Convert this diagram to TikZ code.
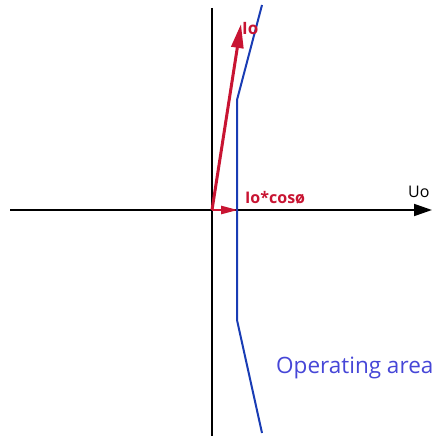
\documentclass[tikz,border=0pt]{standalone}
\usepackage{fontspec}
\setmainfont{Open Sans}
\usetikzlibrary{arrows.meta}
\definecolor{vecred}{RGB}{200,20,50}
\definecolor{limitblue}{RGB}{25,60,180}
\definecolor{areablue}{RGB}{70,70,215}

\begin{document}
\begin{tikzpicture}[x=1pt, y=-1pt,
    every node/.style={inner sep=0pt, anchor=base west},
    axis/.style={line width=1.8pt, black},
    vector/.style={line width=3pt, vecred, -{Triangle[length=24pt, width=12pt]}},
    limit/.style={line width=2pt, limitblue},
    label/.style={font=\fontsize{16}{16}\selectfont\bfseries, text=vecred}
  ]
    \useasboundingbox (0,0) rectangle (432,436);
    % axes
    \coordinate (origin) at (212,210);
    \coordinate (xstart) at (10,210);
    \coordinate (xend) at (432,210);
    \coordinate (ytop) at (212,8);
    \coordinate (ybottom) at (212,436);
    \draw[axis, -{Triangle[length=18pt, width=12pt]}] (xstart) -- (xend);
    \draw[axis] (ytop) -- (ybottom);
    \node (uo) at (408,197) {\fontsize{16}{16}\selectfont Uo};

    % operating limit
    \coordinate (ltop) at (262,5);
    \coordinate (lknee1) at (237,100);
    \coordinate (lknee2) at (237,320);
    \coordinate (lbottom) at (262,433);
    \draw[limit] (ltop) -- (lknee1) -- (lknee2) -- (lbottom);
    \node[text=areablue] (area) at (276,373) {\fontsize{22.5}{23}\selectfont Operating area};

    % current vectors
    \coordinate (iotip) at (241,24);
    \coordinate (cosphitip) at (238,210);
    \draw[vector] (origin) -- (iotip);
    \draw[vector, line width=2.5pt, -{Triangle[length=17pt, width=8pt]}] (origin) -- (cosphitip);
    \node[label, font=\fontsize{17}{17}\selectfont\bfseries] (io) at (242,35) {Io};
    \node[label] (iocos) at (245,203) {Io*cosø};
  \end{tikzpicture}
\end{document}
